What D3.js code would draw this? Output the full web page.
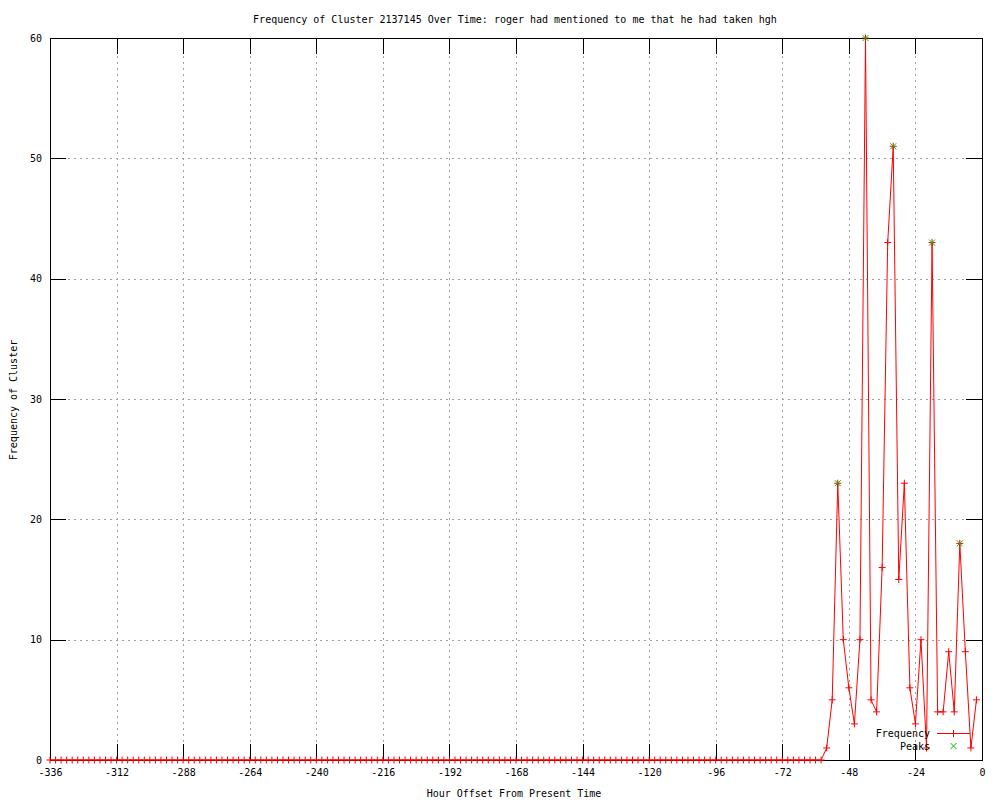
<!DOCTYPE html>
<html>
<head>
<meta charset="utf-8">
<script src="https://cdn.jsdelivr.net/npm/d3@7"></script>
<style>
  body { margin: 0; background: #fff; }
  svg { display: block; }
  text { font-family: "DejaVu Sans Mono", "Liberation Mono", monospace; font-size: 10px; fill: #000; }
</style>
</head>
<body>
<svg id="chart" width="1000" height="800"></svg>
<script>
const titleText = "Frequency of Cluster 2137145 Over Time: roger had mentioned to me that he had taken hgh"
const xTitle = "Hour Offset From Present Time"
const yTitle = "Frequency of Cluster"

// one sample every 2 hours, starting at -336
const startHour = -336
const hourStep = 2
const frequency = [
  0, 0, 0, 0, 0, 0, 0, 0, 0, 0,
  0, 0, 0, 0, 0, 0, 0, 0, 0, 0,
  0, 0, 0, 0, 0, 0, 0, 0, 0, 0,
  0, 0, 0, 0, 0, 0, 0, 0, 0, 0,
  0, 0, 0, 0, 0, 0, 0, 0, 0, 0,
  0, 0, 0, 0, 0, 0, 0, 0, 0, 0,
  0, 0, 0, 0, 0, 0, 0, 0, 0, 0,
  0, 0, 0, 0, 0, 0, 0, 0, 0, 0,
  0, 0, 0, 0, 0, 0, 0, 0, 0, 0,
  0, 0, 0, 0, 0, 0, 0, 0, 0, 0,
  0, 0, 0, 0, 0, 0, 0, 0, 0, 0,
  0, 0, 0, 0, 0, 0, 0, 0, 0, 0,
  0, 0, 0, 0, 0, 0, 0, 0, 0, 0,
  0, 0, 0, 0, 0, 0, 0, 0, 0, 0,
  1, 5, 23, 10, 6, 3, 10, 60, 5, 4,
  16, 43, 51, 15, 23, 6, 3, 10, 1, 43,
  4, 4, 9, 4, 18, 9, 1, 5
]
const peakHours = [-52, -42, -32, -18, -8]
const peakValues = [23, 60, 51, 43, 18]

const xTicks = [-336, -312, -288, -264, -240, -216, -192, -168, -144, -120, -96, -72, -48, -24, 0]
const yTicks = [0, 10, 20, 30, 40, 50, 60]

const margin = { left: 50, right: 982, top: 38, bottom: 760 }
const color_line = "#ff0000"
const color_peak = "#00c000"
const color_grid = "#a0a0a0"

const svg = d3.select("svg#chart")
const x = d3.scaleLinear().domain([-336, 0]).range([margin.left, margin.right])
const y = d3.scaleLinear().domain([0, 60]).range([margin.bottom, margin.top])

const series = frequency.map((v, i) => ({ h: startHour + i * hourStep, v: v }))
const peaks = peakHours.map((h, i) => ({ h: h, v: peakValues[i] }))

// grid
const grid = svg.append("g").attr("shape-rendering", "crispEdges")
grid.selectAll("line.vx").data(xTicks.slice(1, -1)).join("line")
  .attr("x1", d => Math.round(x(d)) + 0.5).attr("x2", d => Math.round(x(d)) + 0.5)
  .attr("y1", margin.top).attr("y2", margin.bottom)
  .style("stroke", color_grid).style("stroke-dasharray", "2 4")
grid.selectAll("line.hy").data(yTicks.slice(1, -1)).join("line")
  .attr("y1", d => Math.round(y(d)) + 0.5).attr("y2", d => Math.round(y(d)) + 0.5)
  .attr("x1", margin.left).attr("x2", margin.right)
  .style("stroke", color_grid).style("stroke-dasharray", "2 4")

// axes: labelled on bottom/left, mirrored ticks on top/right
const fmt = d => String(d)
function styleAxis(g) {
  g.attr("shape-rendering", "crispEdges")
  g.select(".domain").remove()
  g.selectAll(".tick line").style("stroke", "#000")
  g.selectAll(".tick text").style("font-family", "DejaVu Sans Mono, monospace").style("font-size", "10px").style("fill", "#000")
}
svg.append("g").attr("transform", `translate(0,${margin.bottom})`)
  .call(d3.axisBottom(x).tickValues(xTicks).tickFormat(fmt).tickSizeInner(-16).tickSizeOuter(0).tickPadding(9))
  .call(styleAxis)
svg.append("g").attr("transform", `translate(0,${margin.top})`)
  .call(d3.axisTop(x).tickValues(xTicks).tickFormat("").tickSizeInner(-16).tickSizeOuter(0))
  .call(styleAxis)
svg.append("g").attr("transform", `translate(${margin.left},0)`)
  .call(d3.axisLeft(y).tickValues(yTicks).tickFormat(fmt).tickSizeInner(-16).tickSizeOuter(0).tickPadding(8))
  .call(styleAxis)
svg.append("g").attr("transform", `translate(${margin.right},0)`)
  .call(d3.axisRight(y).tickValues(yTicks).tickFormat("").tickSizeInner(-16).tickSizeOuter(0))
  .call(styleAxis)

// frame
svg.append("rect")
  .attr("x", margin.left + 0.5).attr("y", margin.top + 0.5)
  .attr("width", margin.right - margin.left).attr("height", margin.bottom - margin.top)
  .style("fill", "none").style("stroke", "#000").attr("shape-rendering", "crispEdges")

// frequency line + markers
const plusPath = "M-3.5,0H3.5M0,-3.5V3.5"
const crossPath = "M-3,-3L3,3M-3,3L3,-3"
svg.append("path")
  .datum(series)
  .attr("d", d3.line().x(d => x(d.h)).y(d => y(d.v)))
  .style("fill", "none").style("stroke", color_line).style("stroke-width", 1)
svg.append("g").selectAll("path").data(series).join("path")
  .attr("transform", d => `translate(${x(d.h)},${y(d.v)})`)
  .attr("d", plusPath)
  .style("stroke", color_line).style("stroke-width", 1).style("fill", "none")

// peaks
svg.append("g").selectAll("path").data(peaks).join("path")
  .attr("transform", d => `translate(${x(d.h)},${y(d.v)})`)
  .attr("d", crossPath)
  .style("stroke", color_peak).style("stroke-width", 1).style("fill", "none")

// legend
const legend = svg.append("g")
legend.append("text").attr("x", 930).attr("y", 733).attr("dy", "0.35em").attr("text-anchor", "end").text("Frequency")
legend.append("line").attr("x1", 937).attr("x2", 970).attr("y1", 733.5).attr("y2", 733.5)
  .style("stroke", color_line).attr("shape-rendering", "crispEdges")
legend.append("path").attr("transform", "translate(953.5,733.5)").attr("d", plusPath).style("stroke", color_line)
legend.append("text").attr("x", 930).attr("y", 746).attr("dy", "0.35em").attr("text-anchor", "end").text("Peaks")
legend.append("path").attr("transform", "translate(953.5,746)").attr("d", crossPath).style("stroke", color_peak)

// titles
svg.append("text").attr("x", 515).attr("y", 19).attr("dy", "0.35em").attr("text-anchor", "middle").text(titleText)
svg.append("text").attr("x", 514).attr("y", 793).attr("dy", "0.35em").attr("text-anchor", "middle").text(xTitle)
svg.append("text").attr("transform", "translate(13,400) rotate(-90)").attr("dy", "0.35em").attr("text-anchor", "middle").text(yTitle)
</script>
</body>
</html>
